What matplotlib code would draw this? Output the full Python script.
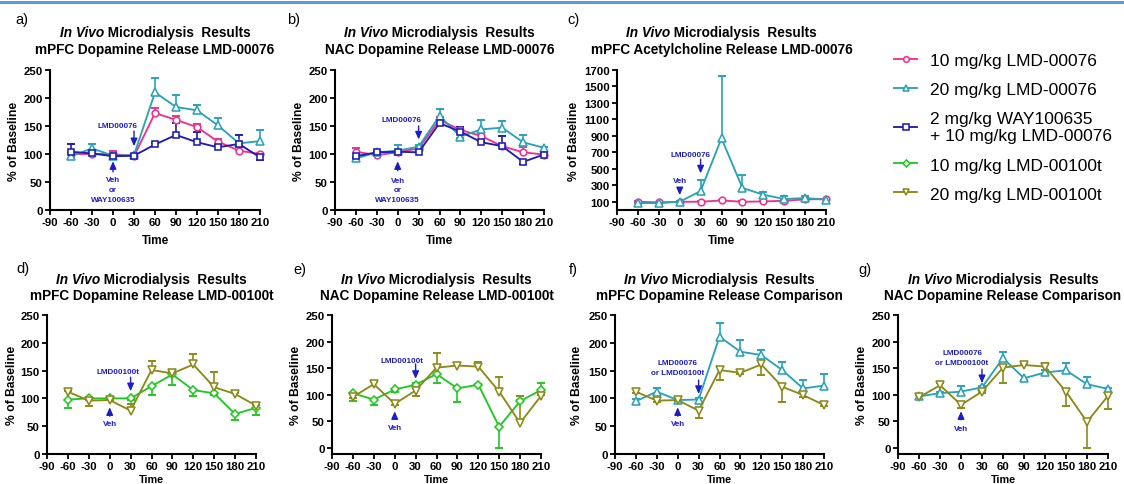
import matplotlib
matplotlib.use('Agg')
import matplotlib.pyplot as plt
import numpy as np
from matplotlib.lines import Line2D

plt.rcParams['font.family'] = ['Liberation Sans', 'DejaVu Sans']
plt.rcParams['axes.unicode_minus'] = False

# ---------------- data ----------------
TIME = [-60, -30, 0, 30, 60, 90, 120, 150, 180, 210]
X_TICKS = [-90, -60, -30, 0, 30, 60, 90, 120, 150, 180, 210]

# signed error: >0 drawn upward, <0 drawn downward
# a) mPFC dopamine LMD-00076
a_pink = [100, 100, 100, 96, 173, 161, 148, 122, 106, 100]
a_pink_err = [3, 3, 5, 2, 10, 7, 6, 5, 2, 2]
a_teal = [96, 110, 97, 98, 210, 184, 178, 151, 119, 123]
a_teal_err = [-4, 8, 3, 2, 25, 21, 10, 13, 3, 19]
a_blue = [104, 101, 96, 97, 117, 134, 121, 112, 118, 94]
a_blue_err = [13, 3, 3, 3, 3, 22, 19, 4, 16, -4]

# b) NAC dopamine LMD-00076
b_pink = [104, 98, 103, 110, 161, 143, 132, 114, 103, 99]
b_pink_err = [6, 2, 2, 2, 5, 5, 4, 3, 9, 2]
b_teal = [92, 103, 106, 113, 168, 131, 144, 147, 121, 111]
b_teal_err = [3, 2, 10, 3, 13, -3, 17, 12, 13, 2]
b_blue = [96, 103, 104, 103, 155, 140, 121, 114, 86, 99]
b_blue_err = [-3, 2, 2, 2, 10, 8, 2, 18, -3, 2]

# c) mPFC acetylcholine LMD-00076
c_pink = [100, 92, 100, 100, 116, 100, 104, 112, 129, 133]
c_pink_err = [5, 5, 5, 5, 8, 5, 5, 5, 8, 5]
c_teal = [84, 84, 100, 230, 870, 268, 186, 133, 145, 125]
c_teal_err = [5, 5, 5, 132, 760, 156, 33, 32, 20, 10]

# d) mPFC dopamine LMD-00100t
d_green = [98, 100, 100, 100, 122, 143, 115, 109, 72, 83]
d_green_err = [-15, -2, -3, -2, -16, -18, -10, -3, -10, -12]
d_olive = [112, 96, 97, 78, 151, 145, 161, 120, 108, 87]
d_olive_err = [2, -9, 6, 12, 17, 2, 19, 28, 2, 2]

# e) NAC dopamine LMD-00100t
e_green = [103, 91, 110, 119, 139, 112, 119, 40, 88, 109]
e_green_err = [-15, -11, -5, 3, -16, -26, 2, -40, 3, 13]
e_olive = [96, 120, 83, 108, 151, 155, 153, 106, 47, 98]
e_olive_err = [-2, 4, -2, -11, 28, 4, 9, 28, 50, 2]

# f) mPFC dopamine comparison
f_teal = [95, 112, 97, 98, 211, 184, 178, 151, 118, 123]
f_teal_err = [4, 6, -3, 2, 24, 21, 9, 14, 15, 20]
f_olive = [112, 96, 97, 78, 151, 146, 161, 121, 106, 88]
f_olive_err = [-2, -3, 6, -14, -18, -2, -19, -28, -3, -2]

# g) NAC dopamine comparison
g_teal = [97, 103, 106, 114, 169, 131, 142, 146, 120, 111]
g_teal_err = [2, 3, 11, 3, 12, -3, 4, 13, 14, 2]
g_olive = [95, 118, 81, 106, 151, 156, 153, 106, 49, 98]
g_olive_err = [-3, 4, -5, -2, -29, 2, 6, -27, -49, -25]

LABELS = ['10 mg/kg LMD-00076', '20 mg/kg LMD-00076',
          '2 mg/kg WAY100635\n+ 10 mg/kg LMD-00076',
          '10 mg/kg LMD-00100t', '20 mg/kg LMD-00100t']

# ---------------- styles ----------------
PINK = '#f0328c'
TEAL = '#2aa3ba'
BLUE = '#1e1eb4'
GREEN = '#22c822'
OLIVE = '#8c8a18'
ANN = '#1c1cc8'
STY = {
    'pink': (PINK, 'o', 4.8),
    'teal': (TEAL, '^', 5.2),
    'blue': (BLUE, 's', 4.8),
    'green': (GREEN, 'D', 4.2),
    'olive': (OLIVE, 'v', 5.2),
}

W, H = 1124, 485
fig = plt.figure(figsize=(W / 100, H / 100), dpi=100)


def rect(x0, x1, ytop, ybot):
    return [x0 / W, 1 - ybot / H, (x1 - x0) / W, (ybot - ytop) / H]


def series(ax, y, err, key, label=None):
    color, marker, ms = STY[key]
    y = np.asarray(y, float)
    e = np.asarray(err, float)
    lo = np.where(e < 0, -e, 0)
    hi = np.where(e > 0, e, 0)
    eb = ax.errorbar(TIME, y, yerr=[lo, hi], fmt='none', ecolor=color,
                     elinewidth=1.2, capsize=0, zorder=2)
    for coll in eb.lines[2]:
        coll.set_clip_on(False)
    ax.plot(TIME, y + e, ls='none', marker='_', ms=6, mew=1.4,
            color=color, zorder=2, clip_on=False)
    line, = ax.plot(TIME, y, color=color, lw=1.35, marker=marker, ms=ms,
                    mfc='white', mec=color, mew=1.15, zorder=3, label=label,
                    clip_on=False)
    return line


TOP = (71, 211)
BOT = (316, 455)


def setup(ax, ylim, yticks, ylab_x=-0.145, bottom_row=False):
    ax.set_xlim(-90, 210)
    ax.set_xticks(X_TICKS)
    ax.set_ylim(*ylim)
    ax.set_yticks(yticks)
    for s in ['top', 'right']:
        ax.spines[s].set_visible(False)
    for s in ['left', 'bottom']:
        ax.spines[s].set_linewidth(1.5)
    ax.tick_params(direction='out', length=3.5, width=1.3, labelsize=8.2, pad=1.8)
    for lab in ax.get_xticklabels() + ax.get_yticklabels():
        lab.set_fontweight('bold')
    ax.set_ylabel('% of Baseline', fontsize=8.7, fontweight='bold')
    ax.yaxis.set_label_coords(ylab_x, 0.5)
    if bottom_row:
        ax.set_xlabel('Time', fontsize=7.8, fontweight='bold')
        ax.xaxis.label.set_va('bottom')
        ax.xaxis.set_label_coords(0.5, -(485 - BOT[1]) / (BOT[1] - BOT[0]))
    else:
        ax.set_xlabel('Time', fontsize=8.5, fontweight='bold')
        ax.xaxis.set_label_coords(0.5, -0.17)


def arrow(ax, x, y_from, y_to):
    ax.annotate('', xy=(x, y_to), xytext=(x, y_from),
                arrowprops=dict(arrowstyle='-|>,head_length=0.45,head_width=0.2',
                                color=ANN, lw=1.0, shrinkA=0, shrinkB=0),
                annotation_clip=False)


def note(ax, x, y, s):
    ax.text(x, y, s, color=ANN, fontsize=5.8, fontweight='bold',
            ha='center', va='center', linespacing=1.55)


Y250 = [0, 50, 100, 150, 200, 250]

# a)
axa = fig.add_axes(rect(50, 260, *TOP))
setup(axa, (0, 250), Y250)
h_pink = series(axa, a_pink, a_pink_err, 'pink', LABELS[0])
h_teal = series(axa, a_teal, a_teal_err, 'teal', LABELS[1])
h_blue = series(axa, a_blue, a_blue_err, 'blue', LABELS[2])
note(axa, 7, 150, 'LMD00076')
arrow(axa, 30, 141, 114)
arrow(axa, 0, 68, 87)
note(axa, 0, 37, 'Veh\nor\nWAY100635')

# b)
axb = fig.add_axes(rect(335, 544, *TOP))
setup(axb, (0, 250), Y250)
series(axb, b_pink, b_pink_err, 'pink')
series(axb, b_teal, b_teal_err, 'teal')
series(axb, b_blue, b_blue_err, 'blue')
note(axb, 6, 162, 'LMD00076')
arrow(axb, 30, 150, 126)
arrow(axb, 0, 70, 87)
note(axb, 0, 36, 'Veh\nor\nWAY100635')

# c)
axc = fig.add_axes(rect(617, 826, *TOP))
setup(axc, (0, 1700), list(range(100, 1701, 200)), ylab_x=-0.177)
series(axc, c_pink, c_pink_err, 'pink')
series(axc, c_teal, c_teal_err, 'teal')
note(axc, 15, 678, 'LMD00076')
arrow(axc, 30, 616, 445)
note(axc, 0, 362, 'Veh')
arrow(axc, 0, 268, 180)

# d)
axd = fig.add_axes(rect(47, 256, *BOT))
setup(axd, (0, 250), Y250, ylab_x=-0.14, bottom_row=True)
h_green = series(axd, d_green, d_green_err, 'green', LABELS[3])
h_olive = series(axd, d_olive, d_olive_err, 'olive', LABELS[4])
note(axd, 12, 149, 'LMD00100t')
arrow(axd, 30, 138, 113)
arrow(axd, 0, 68, 84)
note(axd, 0, 54, 'Veh')

# e)
axe = fig.add_axes(rect(332, 541, *BOT))
setup(axe, (-11.3, 250), Y250, bottom_row=True)
series(axe, e_green, e_green_err, 'green')
series(axe, e_olive, e_olive_err, 'olive')
note(axe, 10, 165, 'LMD00100t')
arrow(axe, 30, 158, 130)
arrow(axe, 0, 55, 69)
note(axe, 0, 38, 'Veh')

# f)
axf = fig.add_axes(rect(615, 824, *BOT))
setup(axf, (0, 250), Y250, ylab_x=-0.153, bottom_row=True)
series(axf, f_teal, f_teal_err, 'teal')
series(axf, f_olive, f_olive_err, 'olive')
note(axf, 0, 155, 'LMD00076\nor LMD00100t')
arrow(axf, 30, 133, 108)
arrow(axf, 0, 68, 84)
note(axf, 0, 54, 'Veh')

# g)
axg = fig.add_axes(rect(898, 1108, *BOT))
setup(axg, (-11.3, 250), Y250, bottom_row=True)
series(axg, g_teal, g_teal_err, 'teal')
series(axg, g_olive, g_olive_err, 'olive')
note(axg, 1.5, 170, 'LMD00076\nor LMD00100t')
arrow(axg, 30, 148, 122)
arrow(axg, 0, 53, 69)
note(axg, 0, 36, 'Veh')

# ---------------- titles ----------------
TS = 9.8
renderer = fig.canvas.get_renderer()


def title(ax, y1, y2, line2):
    bb = ax.get_position()
    cx = (bb.x0 + bb.x1) / 2
    t1 = fig.text(0, 1 - y1 / H, 'In Vivo', style='italic', weight='bold',
                  size=TS, va='center', ha='left')
    t2 = fig.text(0, 1 - y1 / H, ' Microdialysis  Results', weight='bold',
                  size=TS, va='center', ha='left')
    w1 = t1.get_window_extent(renderer).width / W
    w2 = t2.get_window_extent(renderer).width / W
    x0 = cx - (w1 + w2) / 2
    t1.set_x(x0)
    t2.set_x(x0 + w1)
    fig.text(cx, 1 - y2 / H, line2, ha='center', va='center', weight='bold',
             size=TS)


title(axa, 33, 50, 'mPFC Dopamine Release LMD-00076')
title(axb, 33, 50, 'NAC Dopamine Release LMD-00076')
title(axc, 33, 50, 'mPFC Acetylcholine Release LMD-00076')
title(axd, 280, 296, 'mPFC Dopamine Release LMD-00100t')
title(axe, 280, 296, 'NAC Dopamine Release LMD-00100t')
title(axf, 280, 296, 'mPFC Dopamine Release Comparison')
title(axg, 280, 296, 'NAC Dopamine Release Comparison')

for s, (x, y) in zip(['a)', 'b)', 'c)', 'd)', 'e)', 'f)', 'g)'],
                     [(22, 20), (294, 20), (574, 20), (23, 269), (300, 270),
                      (573, 270), (865, 270)]):
    fig.text(x / W, 1 - y / H, s, ha='center', va='center', size=10.5)

# ---------------- legend ----------------
fig.legend([h_pink, h_teal, h_blue, h_green, h_olive], LABELS,
           loc='upper left', bbox_to_anchor=(894 / W, 1 - 54 / H),
           frameon=False, fontsize=12.5, handlelength=1.35,
           handletextpad=0.7, labelspacing=0.8, borderpad=0,
           borderaxespad=0, markerscale=0.85)

# top border line
fig.add_artist(Line2D([0, 1], [1 - 3 / H, 1 - 3 / H], transform=fig.transFigure,
                      color='#5b9bd5', lw=2.2))

fig.savefig('out.png', dpi=100)
